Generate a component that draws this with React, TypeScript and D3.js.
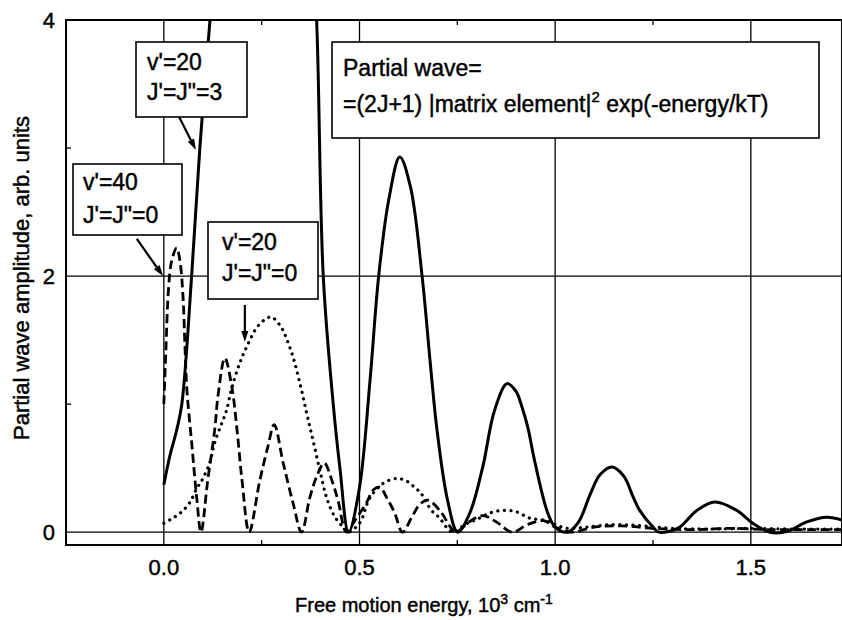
import React from 'react';
import * as d3 from 'd3';

// ---------- data ----------
const xTickValues = [0, 0.5, 1.0, 1.5];
const xTickLabels = ['0.0', '0.5', '1.0', '1.5'];
const yTickValues = [0, 2, 4];
const yTickLabels = ['0', '2', '4'];
const xMinorTicks = [0.25, 0.75, 1.25];
const yMinorTicks = [1, 3];
const gridXValues = [0, 0.5, 1.0, 1.5];
const gridYValues = [0, 2];

// v'=20, J'=J''=3 (solid)
const solidX = [0, 0.015, 0.033, 0.046, 0.071, 0.092, 0.118, 0.15, 0.2, 0.25, 0.3, 0.35, 0.378, 0.3904, 0.4074, 0.4329, 0.45, 0.472,
  0.5, 0.527, 0.549, 0.575, 0.603, 0.63, 0.66, 0.68, 0.698, 0.725, 0.751,
  0.782, 0.815, 0.845, 0.877, 0.9, 0.915, 0.93, 0.948, 0.981, 1.0, 1.032,
  1.06, 1.09, 1.115, 1.145, 1.175, 1.2, 1.216, 1.25, 1.265,
  1.29, 1.319, 1.362, 1.408, 1.464, 1.505, 1.549, 1.592, 1.643, 1.694, 1.733];
const solidY = [0.37, 0.59, 0.8, 1.0, 2.0, 3.0, 4.0, 5.2, 6.4, 6.8, 6.6, 5.6, 4.6, 4.0, 2.0, 1.0, 0.5, 0.0,
  0.35, 1.19, 2.0, 2.6, 2.93, 2.7, 2.0, 1.35, 0.8, 0.25, 0.0,
  0.15, 0.51, 0.95, 1.16, 1.1, 0.98, 0.82, 0.55, 0.15, 0.04, 0.0,
  0.08, 0.3, 0.45, 0.51, 0.44, 0.27, 0.17, 0.04, 0.0,
  0.005, 0.04, 0.17, 0.235, 0.17, 0.07, 0.0, 0.005, 0.08, 0.117, 0.095];

// v'=20, J'=J''=0 (dotted)
const dottedX = [0, 0.023, 0.046, 0.066, 0.084, 0.1, 0.118, 0.13, 0.148, 0.16, 0.174, 0.194, 0.212, 0.238, 0.263, 0.276, 0.3, 0.315, 0.33,
  0.348, 0.365, 0.381, 0.399, 0.416, 0.437, 0.458, 0.47, 0.5, 0.527, 0.56, 0.595, 0.62, 0.641, 0.658, 0.684, 0.705, 0.722, 0.74,
  0.77, 0.807, 0.833, 0.866, 0.9, 0.935, 0.978, 1.0, 1.03, 1.08, 1.15, 1.22, 1.3, 1.4, 1.5, 1.6, 1.733];
const dottedY = [0.07, 0.11, 0.16, 0.23, 0.34, 0.42, 0.55, 0.7, 0.85, 0.95, 1.13, 1.32, 1.45, 1.6, 1.67, 1.68, 1.6, 1.5, 1.37,
  1.16, 0.93, 0.72, 0.48, 0.27, 0.12, 0.04, 0.0, 0.07, 0.27, 0.38, 0.42, 0.4, 0.35, 0.3, 0.17, 0.11, 0.04, 0.0,
  0.06, 0.11, 0.15, 0.17, 0.16, 0.11, 0.09, 0.06, 0.03, 0.04, 0.06, 0.05, 0.03, 0.025, 0.03, 0.025, 0.025];

// v'=40, J'=J''=0 (dashed)
const dashedX = [0, 0.005, 0.012, 0.02, 0.033, 0.042, 0.049, 0.054, 0.059, 0.072, 0.084, 0.095, 0.112, 0.13, 0.139, 0.156, 0.174, 0.187,
  0.2, 0.218, 0.245, 0.266, 0.282, 0.305, 0.33, 0.352, 0.373, 0.39, 0.41, 0.43, 0.445, 0.467, 0.49, 0.518, 0.535, 0.552, 0.573, 0.59,
  0.61, 0.634, 0.655, 0.675, 0.71, 0.73, 0.745, 0.78, 0.815, 0.85, 0.89, 0.93, 0.97, 1.0, 1.04, 1.1, 1.17, 1.25, 1.35, 1.45, 1.55, 1.65, 1.733];
const dashedY = [1.0, 1.4, 1.9, 2.12, 2.22, 2.1, 1.84, 1.45, 1.11, 0.67, 0.27, 0.0, 0.4, 0.8, 1.08, 1.36, 1.13, 0.8,
  0.4, 0.0, 0.4, 0.67, 0.84, 0.54, 0.23, 0.0, 0.27, 0.43, 0.54, 0.4, 0.25, 0.0, 0.1, 0.23, 0.33, 0.35, 0.25, 0.15,
  0.0, 0.12, 0.22, 0.25, 0.15, 0.05, 0.0, 0.08, 0.13, 0.08, 0.0, 0.06, 0.09, 0.04, 0.0, 0.04, 0.05, 0.03, 0.02, 0.03, 0.02, 0.02, 0.02];

// ---------- layout ----------
const W = 842;
const H = 620;
const PL = 66, PR = 842, PT = 20, PB = 545;
const FONT = '"Liberation Sans", Arial, Helvetica, sans-serif';
const TXT_STROKE = 0.45;

const x = d3.scaleLinear().domain([-0.25, 1.733]).range([PL, PR]);
const y = d3.scaleLinear().domain([-0.1, 4]).range([PB, PT]);

const makeLine = (xs: number[], ys: number[]) =>
  d3.line<number>()
    .x((_, i) => x(xs[i]))
    .y((_, i) => y(ys[i]))
    .curve(d3.curveCatmullRom.alpha(0.5))(ys.map((v) => v)) || '';

type Box = { x0: number; y0: number; x1: number; y1: number };

function Arrow({ x1, y1, x2, y2 }: { x1: number; y1: number; x2: number; y2: number }) {
  const ang = Math.atan2(y2 - y1, x2 - x1);
  const L = 11, Wd = 3.5;
  const bx = x2 - L * Math.cos(ang), by = y2 - L * Math.sin(ang);
  const p1 = [bx + Wd * Math.sin(ang), by - Wd * Math.cos(ang)];
  const p2 = [bx - Wd * Math.sin(ang), by + Wd * Math.cos(ang)];
  return (
    <g>
      <line x1={x1} y1={y1} x2={bx} y2={by} stroke="#000" strokeWidth={2.2} />
      <polygon points={`${x2},${y2} ${p1[0]},${p1[1]} ${p2[0]},${p2[1]}`} fill="#000" />
    </g>
  );
}

function LabelBox({ b, lines, tx, baselines }: { b: Box; lines: React.ReactNode[]; tx: number; baselines: number[] }) {
  return (
    <g>
      <rect x={b.x0} y={b.y0} width={b.x1 - b.x0} height={b.y1 - b.y0} fill="#fff" stroke="#000" strokeWidth={1.6} />
      {lines.map((l, i) => (
        <text key={i} x={tx} y={baselines[i]} fontSize={23} fontFamily={FONT} fill="#000" stroke="#000" strokeWidth={TXT_STROKE}>{l}</text>
      ))}
    </g>
  );
}

export default function App() {
  const solidPath = makeLine(solidX, solidY);
  const dottedPath = makeLine(dottedX, dottedY);
  const dashedPath = makeLine(dashedX, dashedY);

  return (
    <svg width={W} height={H} style={{ position: 'absolute', left: 0, top: 0, background: '#fff' }}>
      <defs>
        <clipPath id="plotclip">
          <rect x={PL} y={PT} width={PR - PL} height={PB - PT} />
        </clipPath>
      </defs>
      <rect x={0} y={0} width={W} height={H} fill="#fff" />

      {/* grid */}
      {gridXValues.map((v) => (
        <line key={'gx' + v} x1={x(v)} x2={x(v)} y1={PT} y2={PB} stroke="#000" strokeWidth={1.3} />
      ))}
      {gridYValues.map((v) => (
        <line key={'gy' + v} x1={PL} x2={PR} y1={y(v)} y2={y(v)} stroke="#000" strokeWidth={1.3} />
      ))}

      {/* minor ticks */}
      {xMinorTicks.map((v) => (
        <g key={'mx' + v}>
          <line x1={x(v)} x2={x(v)} y1={PB} y2={PB - 5} stroke="#000" strokeWidth={1.3} />
          <line x1={x(v)} x2={x(v)} y1={PT} y2={PT + 5} stroke="#000" strokeWidth={1.3} />
        </g>
      ))}
      {yMinorTicks.map((v) => (
        <line key={'my' + v} x1={PL} x2={PL + 5} y1={y(v)} y2={y(v)} stroke="#000" strokeWidth={1.3} />
      ))}

      {/* curves */}
      <g clipPath="url(#plotclip)" fill="none" stroke="#000">
        <path d={dottedPath} strokeWidth={3.2} strokeDasharray="0.1 6.5" strokeLinecap="round" />
        <path d={dashedPath} strokeWidth={2.8} strokeDasharray="9 4.5" />
        <path d={solidPath} strokeWidth={3} strokeLinejoin="round" />
      </g>

      {/* frame */}
      <rect x={PL} y={PT} width={PR - PL} height={PB - PT} fill="none" stroke="#000" strokeWidth={2} />

      {/* tick labels */}
      {xTickValues.map((v, i) => (
        <text key={'xl' + v} x={x(v)} y={575} textAnchor="middle" fontSize={22} fontFamily={FONT} fill="#000" stroke="#000" strokeWidth={TXT_STROKE}>{xTickLabels[i]}</text>
      ))}
      {yTickValues.map((v, i) => (
        <text key={'yl' + v} x={55} y={y(v) + 8} textAnchor="end" fontSize={22} fontFamily={FONT} fill="#000" stroke="#000" strokeWidth={TXT_STROKE}>{yTickLabels[i]}</text>
      ))}

      {/* axis titles */}
      <text x={295} y={612} fontSize={20} fontFamily={FONT} fill="#000" stroke="#000" strokeWidth={TXT_STROKE}>
        Free motion energy, 10<tspan dy={-8} fontSize={14}>3</tspan><tspan dy={8}> cm</tspan><tspan dy={-8} fontSize={14}>-1</tspan>
      </text>
      <text transform="translate(29,278) rotate(-90)" textAnchor="middle" fontSize={22} fontFamily={FONT} fill="#000" stroke="#000" strokeWidth={TXT_STROKE}>
        Partial wave amplitude, arb. units
      </text>

      {/* annotations */}
      <Arrow x1={x(0.033)} y1={y(3.28)} x2={x(0.082)} y2={y(2.985)} />
      <Arrow x1={x(-0.069)} y1={y(2.29)} x2={x(-0.002)} y2={y(2.0)} />
      <Arrow x1={x(0.207)} y1={y(1.775)} x2={x(0.207)} y2={y(1.485)} />

      <LabelBox b={{ x0: 136, y0: 42, x1: 247, y1: 117 }} tx={147} baselines={[70, 100]} lines={["v'=20", 'J\'=J"=3']} />
      <LabelBox b={{ x0: 73, y0: 164, x1: 182, y1: 235 }} tx={83} baselines={[190, 223]} lines={["v'=40", 'J\'=J"=0']} />
      <LabelBox b={{ x0: 208, y0: 222, x1: 318, y1: 299 }} tx={222} baselines={[250, 281]} lines={["v'=20", 'J\'=J"=0']} />
      <g>
        <rect x={332} y={42} width={487} height={96} fill="#fff" stroke="#000" strokeWidth={1.6} />
        <text x={343} y={76} fontSize={23} fontFamily={FONT} fill="#000" stroke="#000" strokeWidth={TXT_STROKE}>Partial wave=</text>
        <text x={343} y={112} fontSize={23} fontFamily={FONT} fill="#000" stroke="#000" strokeWidth={TXT_STROKE}>
          =(2J+1) |matrix element|<tspan dy={-10} fontSize={15}>2</tspan><tspan dy={10}> exp(-energy/kT)</tspan>
        </text>
      </g>
    </svg>
  );
}
